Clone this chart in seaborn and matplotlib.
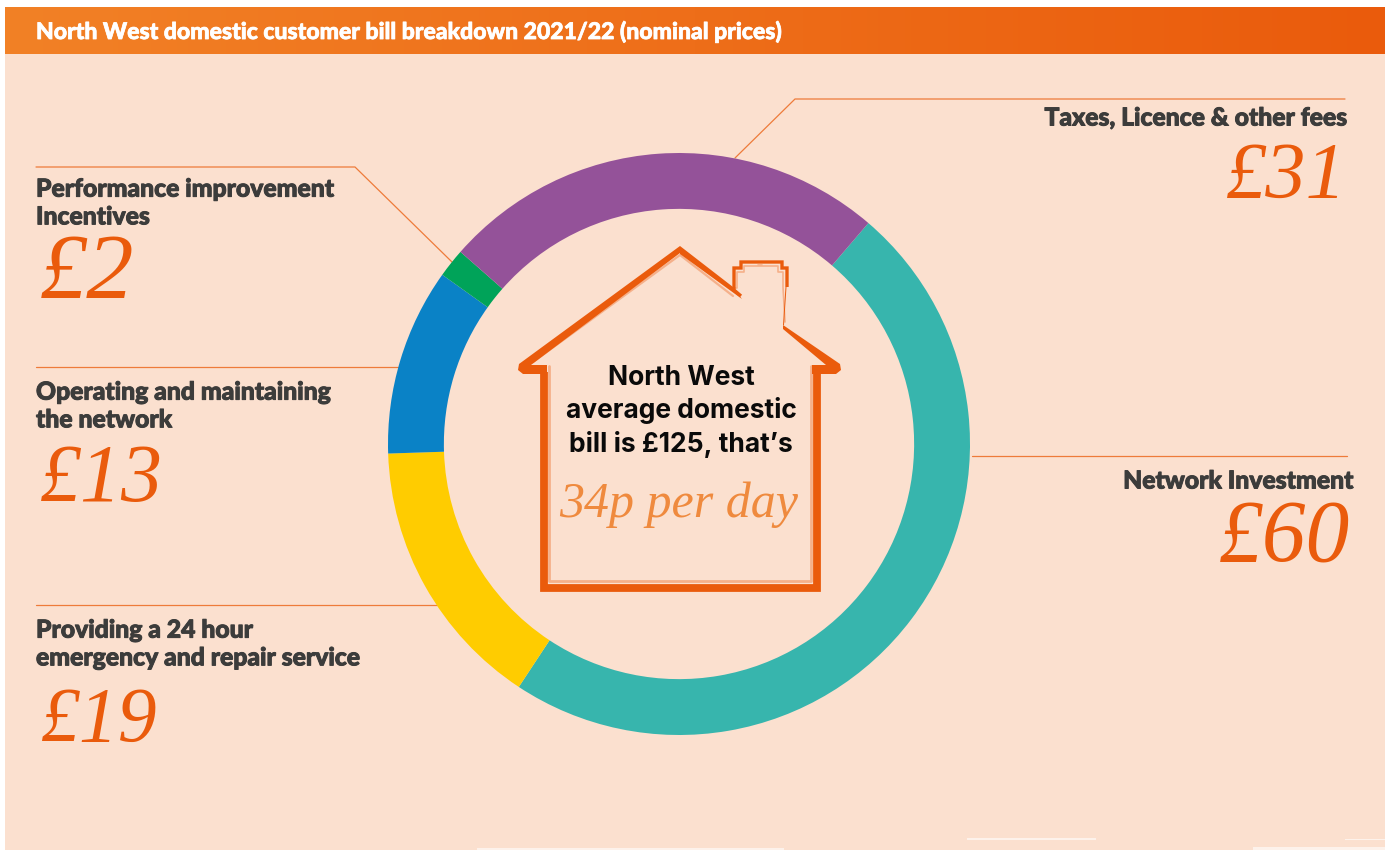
import numpy as np
import pandas as pd
import matplotlib
matplotlib.use('Agg')
import matplotlib.pyplot as plt
import matplotlib.patheffects as pe
import seaborn as sns

# chart values
categories = ['Network Investment', 'Providing a 24 hour\nemergency and repair service',
              'Operating and maintaining\nthe network', 'Performance improvement\nIncentives',
              'Taxes, Licence & other fees']
bill_values = [60, 19, 13, 2, 31]
slice_colors = ['#37B5AD', '#FFCC00', '#0A82C6', '#00A359', '#945299']

title_text = 'North West domestic customer bill breakdown 2021/22 (nominal prices)'
centre_lines = ['North West', 'average domestic', "bill is £125, that’s"]
centre_script = '34p per day'

df = pd.DataFrame({'category': categories, 'bill': bill_values})

ORANGE = '#EA5B0C'
LIGHT = '#F5B08A'
PANEL = '#FBE0CF'
W, H = 1390, 852

sns.set_theme(style='white')
plt.rcParams['font.family'] = ['Lato', 'DejaVu Sans']

fig = plt.figure(figsize=(W / 100, H / 100), dpi=100, facecolor='white')

# whole figure layer in pixel coordinates for panel and leaders
bg = fig.add_axes([0, 0, 1, 1])
bg.axis('off')
bg.fill_between([5, 1385], 54, 850, color=PANEL, lw=0)
grad = np.linspace(0, 1, 256).reshape(1, -1)
cmap = matplotlib.colors.LinearSegmentedColormap.from_list('hdr', ['#F28126', ORANGE])
bg.imshow(grad, extent=[5, 1385, 54, 7], cmap=cmap, aspect='auto', zorder=1)
bg.set_xlim(0, W)
bg.set_ylim(H, 0)

# worn white streaks along the bottom edge
for x0, x1, y0, y1 in [(967, 1096, 838, 840), (477, 784, 848, 850), (1253, 1385, 847, 850),
                       (1345, 1385, 839, 840)]:
    bg.fill_between([x0, x1], y0, y1, color='white', alpha=0.6, lw=0, zorder=2)

# donut
ax = fig.add_axes([388 / W, 1 - 735 / H, 582 / W, 582 / H])
ax.pie(df['bill'], colors=sns.color_palette(slice_colors), startangle=49.4, counterclock=False,
       radius=1, wedgeprops={'width': 0.192, 'linewidth': 0})
ax.set_xlim(-1, 1)
ax.set_ylim(-1, 1)
ax.patch.set_alpha(0)

# leader lines
leaders = [
    ([1345, 795, 735], [99, 99, 158]),
    ([36, 355, 452], [167, 167, 262]),
    ([36, 400], [367, 367]),
    ([36, 438], [605, 605]),
    ([972, 1347], [456, 456]),
]
for xs, ys in leaders:
    bg.plot(xs, ys, color='#EE7B3A', lw=0.9, zorder=3)

# house outline, drawn on top
over = fig.add_axes([0, 0, 1, 1])
over.set_xlim(0, W)
over.set_ylim(H, 0)
over.axis('off')
over.patch.set_alpha(0)

# pale brush edge on the inside of the strokes
for xs, ys, lw in [
    ([533, 680, 733], [362, 255, 296], 1.6),
    ([549, 549, 811, 811], [366, 581, 581, 366], 2.0),
    ([734, 737, 737, 744, 744, 778, 778, 783, 783, 785], [288, 288, 272, 272, 266, 266, 272, 272, 287, 322], 1.2),
    ([758, 762], [265, 265], 1.2),
]:
    over.plot(xs, ys, color=LIGHT, lw=lw, zorder=3)

# solid tapered parts of the roof and eaves
roof_parts = [
    [(680, 246), (519, 364), (518, 370), (523, 374), (547, 374), (547, 365), (531, 365), (680, 253)],
    [(680, 246), (733, 287), (742, 299), (680, 254)],
    [(783, 325), (840, 364), (841, 370), (836, 374), (812, 374), (812, 365), (826, 365), (783, 329)],
]
for part in roof_parts:
    px, py = zip(*part)
    over.fill(px, py, color=ORANGE, lw=0, zorder=4)

# walls and chimney
for xs, ys, lw in [
    ([543.5, 543.5, 816.5, 816.5], [372, 588, 588, 372], 5.6),
    ([741, 734, 734, 741, 741, 782, 782, 787, 787], [296, 290, 268, 268, 262, 262, 268, 268, 287], 2.4),
    ([786, 783.5], [287, 325], 0.7),
]:
    over.plot(xs, ys, color=ORANGE, lw=lw, solid_capstyle='butt', solid_joinstyle='miter', zorder=4)

# title
over.text(36, 32, title_text, color='white', fontsize=16.55, fontweight='black', va='center', ha='left',
          path_effects=[pe.withStroke(linewidth=0.5, foreground='white')])

# labels
label_color = '#3C3C3B'
for txt, x, y, ha in [
    ('Performance improvement\nIncentives', 36, 203, 'left'),
    ('Operating and maintaining\nthe network', 36, 406, 'left'),
    ('Providing a 24 hour\nemergency and repair service', 36, 644, 'left'),
    ('Taxes, Licence & other fees', 1347, 118, 'right'),
    ('Network Investment', 1353, 481, 'right'),
]:
    over.text(x, y, txt, color=label_color, fontsize=17.8, fontweight='black', ha=ha, va='center',
              linespacing=1.25, path_effects=[pe.withStroke(linewidth=0.7, foreground=label_color)])

# amounts, size per figure to fill the same width as the brush lettering
for val, x, y, ha, size in [
    (bill_values[3], 40, 276, 'left', 68),
    (bill_values[2], 40, 481, 'left', 59),
    (bill_values[1], 40, 722, 'left', 56),
    (bill_values[4], 1347, 178, 'right', 58),
    (bill_values[0], 1350, 539, 'right', 63),
]:
    over.text(x, y, f'£{val}', color=ORANGE, fontsize=size, style='italic', ha=ha, va='center',
              family='Liberation Serif')

# centre text
for line, y in zip(centre_lines, [378, 411, 444]):
    over.text(681, y, line, color='#0A0A0A', fontsize=19, fontweight='bold', ha='center', va='center',
              family='Inter')
over.text(679, 505, centre_script, color='#EF8A3E', fontsize=36, style='italic', ha='center', va='center',
          family='Liberation Serif')

fig.savefig('out.png', dpi=100, facecolor='white')
